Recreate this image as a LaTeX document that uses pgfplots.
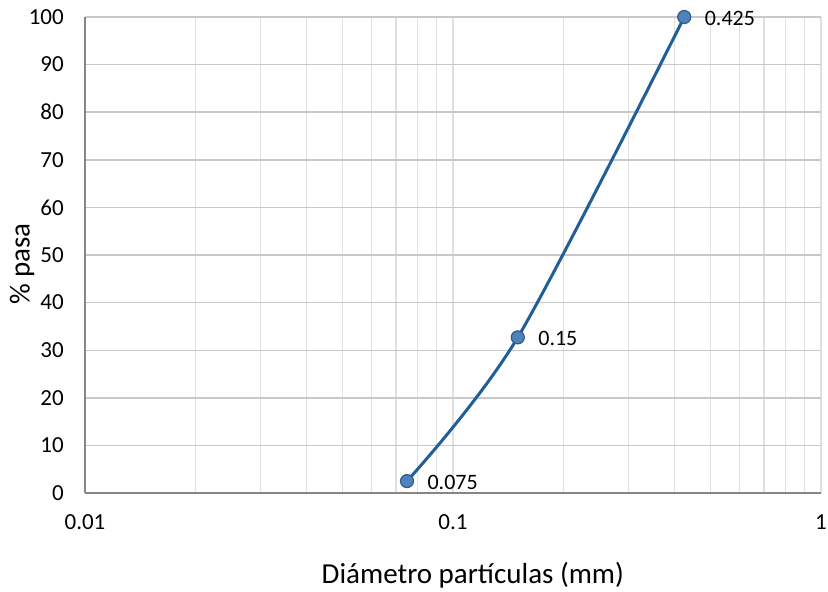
\documentclass[border=0pt]{standalone}
\usepackage{pgfplots}
\pgfplotsset{compat=1.18}
\usepackage{fontspec}
\setmainfont{Carlito}
\definecolor{linec}{RGB}{31,94,150}
\definecolor{markf}{RGB}{79,129,189}
\definecolor{markd}{RGB}{50,90,140}
\definecolor{hgrid}{RGB}{200,200,200}
\definecolor{vgrid}{RGB}{224,224,224}
\definecolor{axc}{RGB}{134,134,134}
\begin{document}
\begin{tikzpicture}
\begin{axis}[
  xmode=log,
  scale only axis,
  width=736pt, height=476pt,
  xmin=0.01, xmax=1, ymin=0, ymax=100,
  xtick={0.01,0.1,1},
  xticklabels={0.01,0.1,1},
  ytick={0,10,...,100},
  /pgf/number format/assume math mode=true,
  minor xtick={0.02,0.03,0.04,0.05,0.06,0.07,0.08,0.09,0.2,0.3,0.4,0.5,0.6,0.7,0.8,0.9},
  xmajorgrids, xminorgrids, ymajorgrids,
  major x grid style={vgrid, line width=1.2pt},
  minor x grid style={vgrid, line width=1.2pt},
  major y grid style={hgrid, line width=1.4pt},
  axis x line*=bottom, axis y line*=left,
  axis line style={axc, line width=1.4pt, -},
  tick style={draw=none},
  major tick length=0pt, minor tick length=0pt,
  ticklabel style={font=\fontsize{23}{27}\selectfont, text=black, inner sep=0pt},
  xticklabel style={anchor=center, yshift=-29pt},
  yticklabel style={anchor=east, xshift=-21pt},
  xlabel={Diámetro partículas (mm)},
  ylabel={\% pasa},
  label style={font=\fontsize{29}{34}\selectfont},
  xlabel style={at={(axis description cs:0.527,-0.172)}, anchor=center},
  ylabel style={at={(axis description cs:-0.0856,0.481)}, anchor=center},
  clip=false,
]
\addplot[linec, line width=3pt, smooth, tension=0.5,
  mark=*, mark size=6.5pt, mark options={fill=markf, draw=markd, line width=1.2pt},
  nodes near coords, point meta=explicit symbolic,
  every node near coord/.style={anchor=west, inner sep=0pt, xshift=20pt, yshift=-1pt, font=\fontsize{22}{26}\selectfont, text=black}]
  table[meta=lab] {
  x y lab
  0.075 2.5 0.075
  0.15 32.7 0.15
  0.425 100 0.425
  };
\path (rel axis cs:0,0) ++(-85pt,-97pt) (rel axis cs:1,1) ++(7pt,17pt);
\end{axis}
\end{tikzpicture}
\end{document}
